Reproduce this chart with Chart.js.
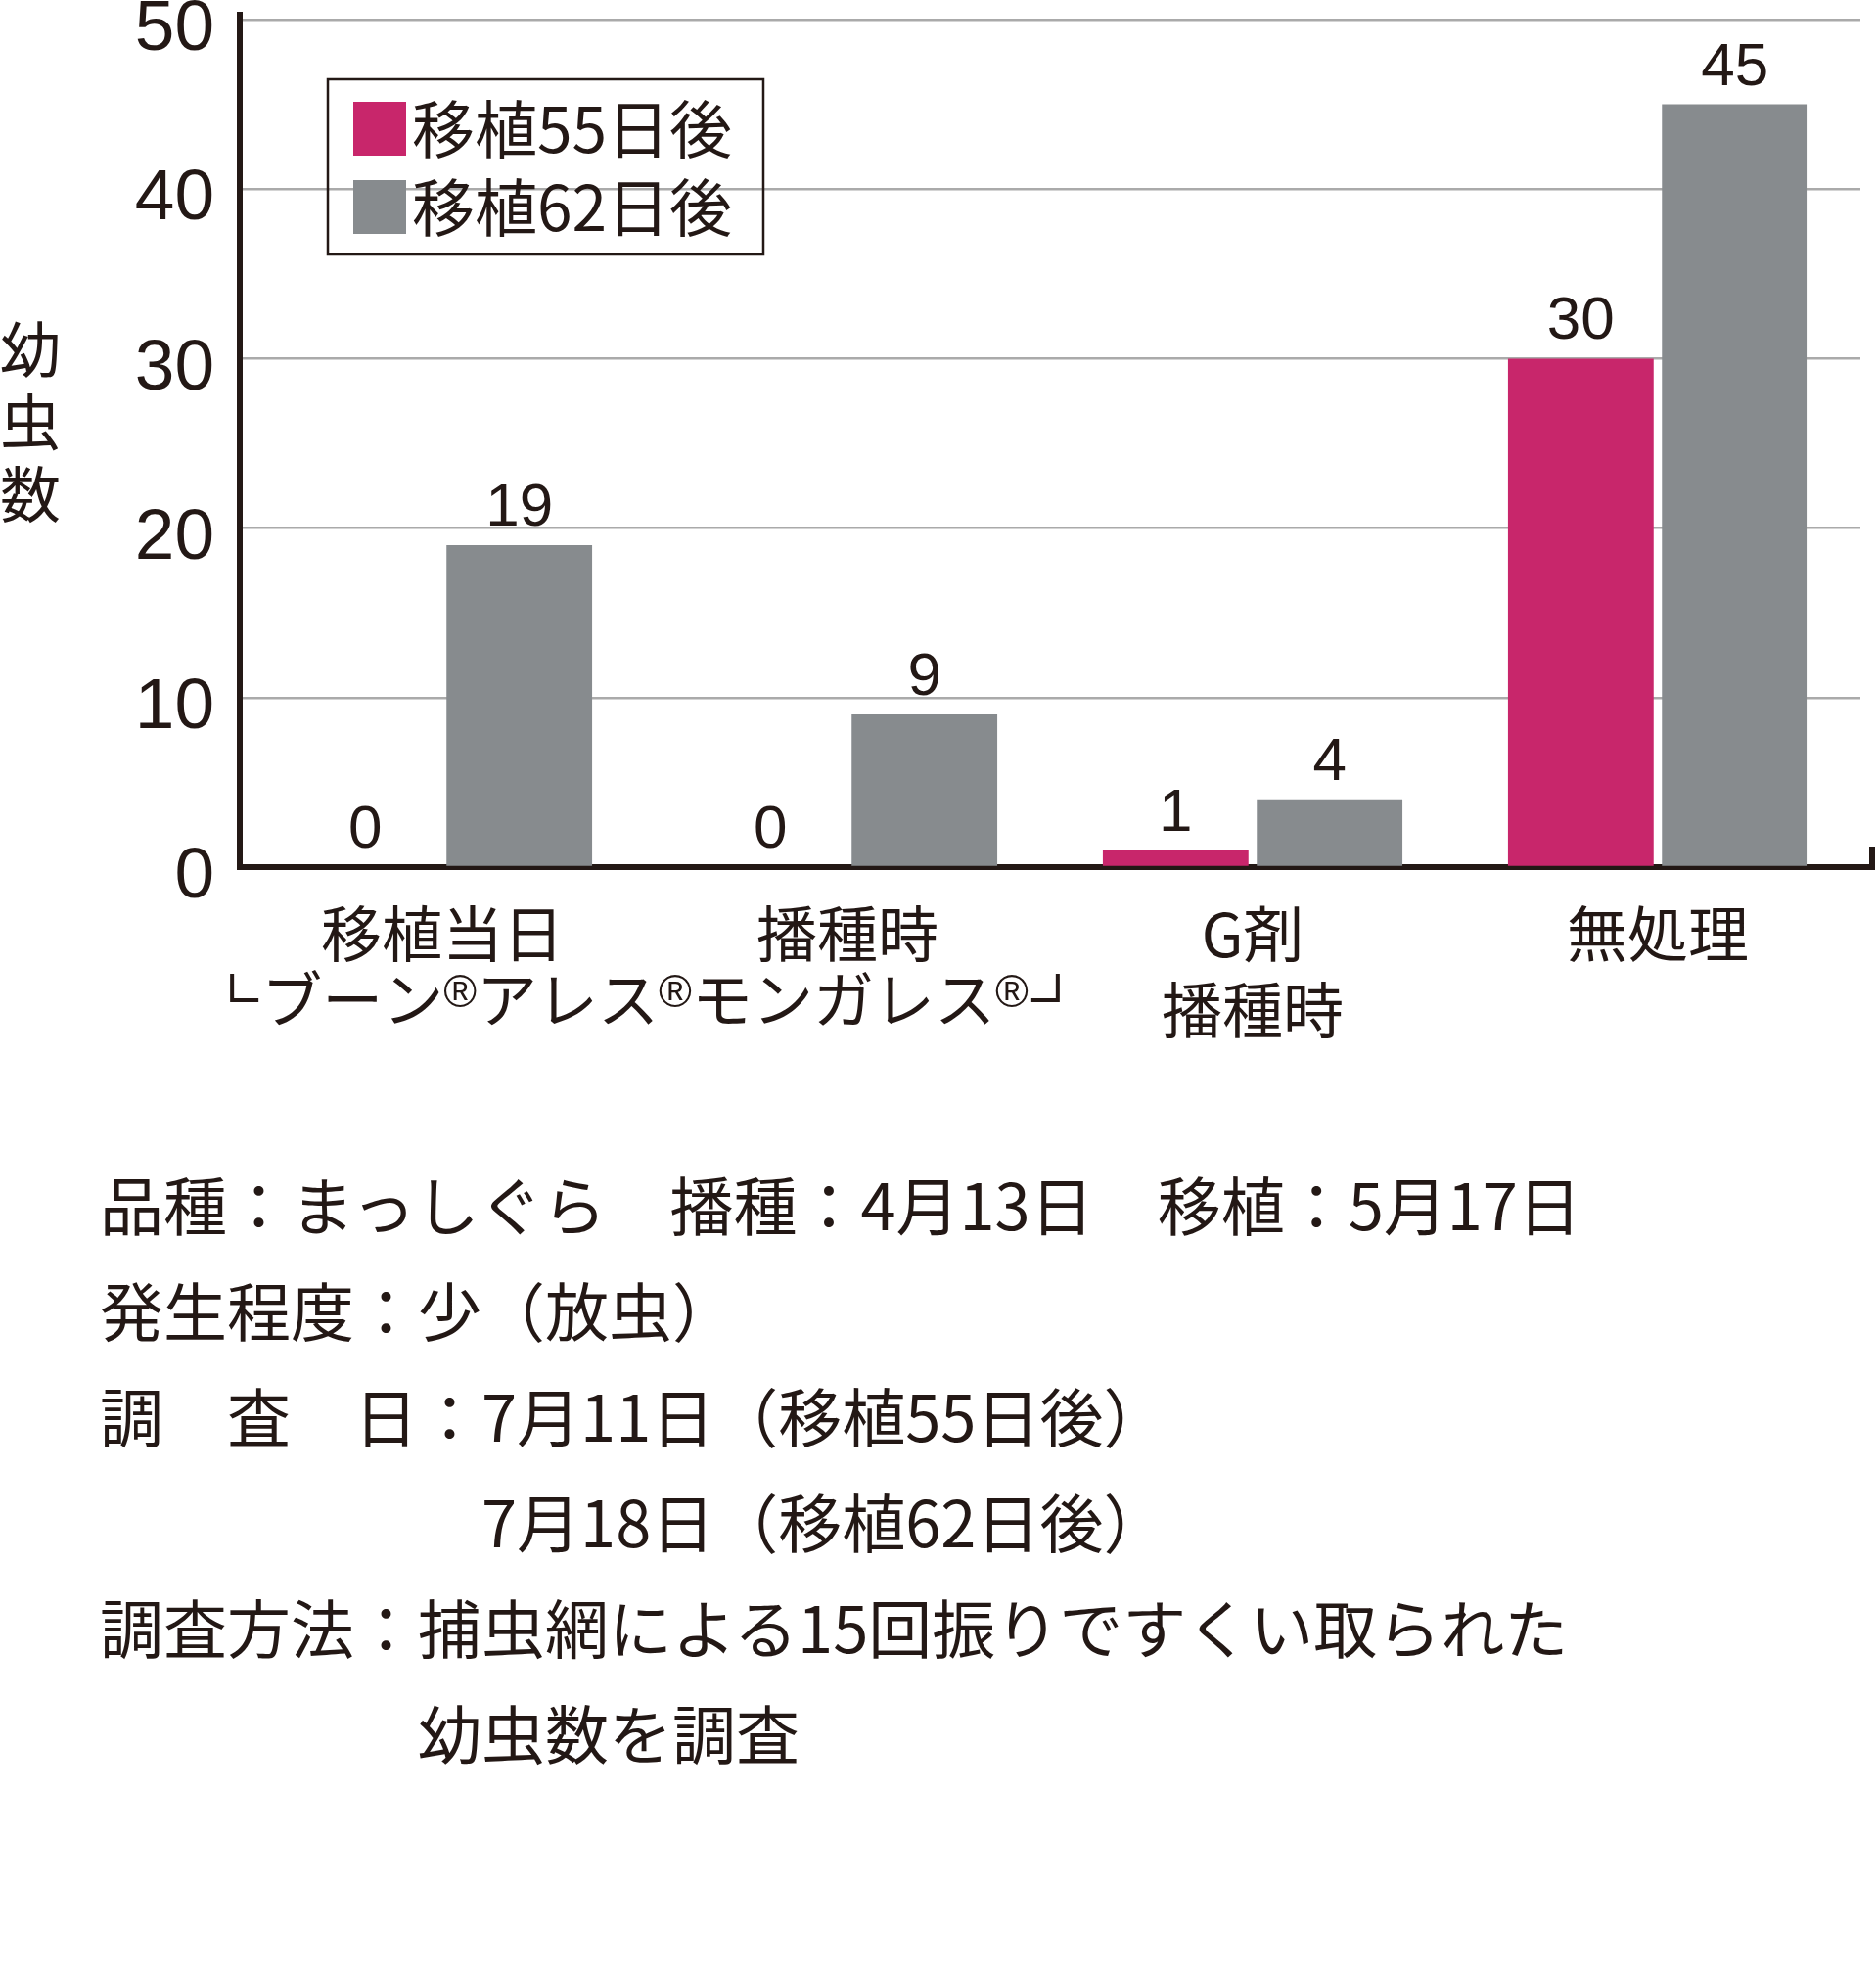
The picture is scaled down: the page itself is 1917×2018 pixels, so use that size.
<!DOCTYPE html>
<html lang="ja">
<head>
<meta charset="utf-8">
<title>幼虫数</title>
<script src="https://cdn.jsdelivr.net/npm/chart.js@4.4.1/dist/chart.umd.min.js"></script>
<style>
  html, body { margin: 0; padding: 0; background: #fff; }
  #wrap { position: relative; width: 1917px; height: 1120px; }
  #notes {
    position: absolute; left: 102px; top: 1175px;
    font-family: "Noto Sans CJK JP", sans-serif; font-size: 65px;
    line-height: 108px; color: #231815; white-space: pre;
  }
</style>
</head>
<body>
<div id="wrap"><canvas id="chart"></canvas></div>
<div id="notes"></div>
<script>
// data
const categories = ['移植当日', '播種時', ['G剤', '播種時'], '無処理'];
const seriesLabels = ['移植55日後', '移植62日後'];
const after55 = [0, 0, 1, 30];
const after62 = [19, 9, 4, 45];
const yMin = 0, yMax = 50, yStep = 10;
const yTitle = ['幼', '虫', '数'];
// shared label under the first two groups ('corner' parts are drawn as strokes)
const bracketParts = ['cornerL', 'ブーン', '®', 'アレス', '®', 'モンガレス', '®', 'cornerR'];
const notes = [
  '品種：まっしぐら　播種：4月13日　移植：5月17日',
  '発生程度：少（放虫）',
  '調　査　日：7月11日（移植55日後）',
  '　　　　　　7月18日（移植62日後）',
  '調査方法：捕虫網による15回振りですくい取られた',
  '　　　　　幼虫数を調査'
];

const ink = '#231815';
const colors = ['#c8266b', '#878b8e'];
const jp = '"Noto Sans CJK JP", sans-serif';
const latin = '"Liberation Sans", Arial, sans-serif';

document.getElementById('notes').textContent = notes.join('\n');

// value labels, legend box, y title, bracket label, axis end marks
const extras = {
  id: 'extras',
  afterDraw(chart) {
    const ctx = chart.ctx;
    const area = chart.chartArea;
    ctx.save();

    // axis ends
    ctx.fillStyle = ink;
    ctx.fillRect(area.left - 3, area.top - 8, 6, 10);
    ctx.fillRect(area.right - 2, area.bottom - 3, 17, 6);
    ctx.fillRect(area.right + 9, area.bottom - 21, 6, 21);

    // value labels
    ctx.font = '62px ' + latin;
    ctx.textAlign = 'center';
    ctx.textBaseline = 'alphabetic';
    chart.data.datasets.forEach((ds, i) => {
      chart.getDatasetMeta(i).data.forEach((bar, j) => {
        ctx.fillText(String(ds.data[j]), bar.x, bar.y - 20);
      });
    });

    // legend
    const lx = area.left + 90, ly = 81;
    ctx.strokeStyle = ink;
    ctx.lineWidth = 2.5;
    ctx.strokeRect(lx, ly, 445, 179);
    ctx.font = '64px ' + jp;
    ctx.textAlign = 'left';
    ctx.textBaseline = 'middle';
    chart.data.datasets.forEach((ds, i) => {
      const top = ly + 23 + i * 80;
      ctx.fillStyle = ds.backgroundColor;
      ctx.fillRect(lx + 26, top, 54, 55);
      ctx.fillStyle = ink;
      ctx.fillText(ds.label, lx + 86, top + 28);
    });

    // y title, upright stacked characters
    ctx.font = '62px ' + jp;
    ctx.textAlign = 'center';
    yTitle.forEach((ch, i) => ctx.fillText(ch, 31, 357 + i * 74));

    // bracket label shared by the first two groups
    const mid = (chart.scales.x.getPixelForValue(0) + chart.scales.x.getPixelForValue(1)) / 2;
    const y = 1021;
    const widths = bracketParts.map((t) => {
      if (t.startsWith('corner')) return 32;
      ctx.font = t === '®' ? '46px ' + latin : '62px ' + jp;
      return ctx.measureText(t).width;
    });
    let x = mid - widths.reduce((a, b) => a + b, 0) / 2;
    ctx.textAlign = 'left';
    ctx.lineWidth = 4;
    bracketParts.forEach((t, i) => {
      if (t === 'cornerL') {
        ctx.beginPath();
        ctx.moveTo(x + 2, y - 26);
        ctx.lineTo(x + 2, y + 1);
        ctx.lineTo(x + 29, y + 1);
        ctx.stroke();
      } else if (t === 'cornerR') {
        ctx.beginPath();
        ctx.moveTo(x + 3, y + 1);
        ctx.lineTo(x + 30, y + 1);
        ctx.lineTo(x + 30, y - 26);
        ctx.stroke();
      } else if (t === '®') {
        ctx.font = '46px ' + latin;
        ctx.textBaseline = 'alphabetic';
        ctx.fillText(t, x, y + 8);
      } else {
        ctx.font = '62px ' + jp;
        ctx.textBaseline = 'middle';
        ctx.fillText(t, x, y);
      }
      x += widths[i];
    });
    ctx.restore();
  }
};

new Chart(document.getElementById('chart'), {
  type: 'bar',
  data: {
    labels: categories,
    datasets: [
      { label: seriesLabels[0], data: after55, backgroundColor: colors[0] },
      { label: seriesLabels[1], data: after62, backgroundColor: colors[1] }
    ]
  },
  options: {
    responsive: true,
    maintainAspectRatio: false,
    animation: false,
    categoryPercentage: 0.76,
    barPercentage: 0.946,
    layout: { padding: { top: 20, right: 16, left: 0, bottom: 0 } },
    plugins: {
      legend: { display: false },
      tooltip: { enabled: false }
    },
    scales: {
      x: {
        afterFit: (s) => { s.height = 234; s.paddingLeft = 0; s.paddingRight = 0; },
        grid: { display: false, drawTicks: false },
        border: { display: true, color: ink, width: 6 },
        ticks: { color: ink, padding: 29, font: { family: jp, size: 62, lineHeight: 1.26 } }
      },
      y: {
        min: yMin,
        max: yMax,
        afterFit: (s) => { s.width = 245; s.paddingTop = 0; s.paddingBottom = 0; },
        grid: {
          drawTicks: false,
          lineWidth: 2.5,
          color: (c) => (c.tick && c.tick.value === 0 ? 'rgba(0,0,0,0)' : '#aaaaaa')
        },
        border: { display: true, color: ink, width: 6 },
        ticks: { stepSize: yStep, color: ink, padding: 26, labelOffset: 11, font: { family: latin, size: 73 } }
      }
    }
  },
  plugins: [extras]
});
</script>
</body>
</html>
